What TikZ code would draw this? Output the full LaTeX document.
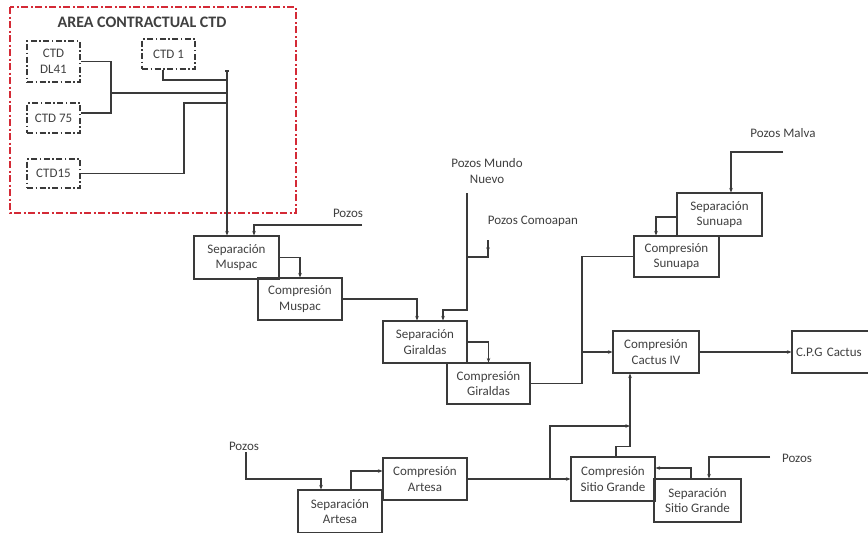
\documentclass[tikz,border=0pt]{standalone}
\usepackage{fontspec}
\setmainfont{Carlito}
\usetikzlibrary{arrows.meta}
\definecolor{ln}{HTML}{3A3A3A}
\definecolor{tx}{HTML}{404040}
\definecolor{redb}{HTML}{D42A36}
\begin{document}
\begin{tikzpicture}[x=1pt,y=-1pt,
  every node/.style={text=tx,font=\fontsize{13}{15.5}\selectfont},
  box/.style={draw=ln,line width=1.1pt,align=center,inner sep=0pt,minimum width=84pt,minimum height=42pt},
  ctdbox/.style={draw=ln,line width=1.5pt,align=center,inner sep=0pt,minimum width=53pt,dash pattern=on 6pt off 2.5pt on 1.5pt off 2.5pt},
  lbl/.style={align=center,inner sep=1pt},
  conn/.style={draw=ln,line width=1.1pt},
  arr/.style={conn,-{Stealth[length=4.5pt,width=3.5pt]}}]
\useasboundingbox (0,0) rectangle (868,533);
\fill[white] (0,0) rectangle (868,533);
% red contract area
\draw[redb,line width=1.4pt,dash pattern=on 7pt off 2.5pt on 2pt off 2.5pt] (10,7) rectangle (296,213);
\node[font=\bfseries\fontsize{16}{19}\selectfont] (title) at (142,22) {AREA CONTRACTUAL CTD};
% CTD boxes
\node[ctdbox,minimum height=41pt] (dl41) at (53.5,61.5) {CTD\\DL41};
\node[ctdbox,minimum height=30pt] (ctd1) at (168.5,54) {CTD 1};
\node[ctdbox,minimum height=30pt] (ctd75) at (53.5,118) {CTD 75};
\node[ctdbox,minimum height=29pt] (ctd15) at (53.5,173.5) {CTD15};
% process boxes
\node[box,minimum width=85pt,minimum height=43pt] (sepmus) at (236.5,257.5) {Separación\\Muspac};
\node[box] (compmus) at (300,299) {Compresión\\Muspac};
\node[box] (sepgir) at (425,342) {Separación\\Giraldas};
\node[box,minimum width=83pt,minimum height=41pt] (compgir) at (488.5,383.5) {Compresión\\Giraldas};
\node[box,minimum width=85pt,minimum height=43pt] (sepsun) at (719.5,214.5) {Separación\\Sunuapa};
\node[box,minimum width=85pt,minimum height=41pt] (compsun) at (676.5,256.5) {Compresión\\Sunuapa};
\node[box,minimum width=86pt] (cactus) at (656,352) {Compresión\\Cactus IV};
\node[box,minimum width=100pt,text width=92pt,align=left] (cpg) at (842,352) {C.P.G Cactus};
\node[box,minimum height=44pt] (compsg) at (613,479) {Compresión\\Sitio Grande};
\node[box,minimum width=87pt,minimum height=43pt] (sepsg) at (697.5,500.5) {Separación\\Sitio Grande};
\node[box] (compart) at (425,479) {Compresión\\Artesa};
\node[box,minimum height=43pt] (separt) at (340,511.5) {Separación\\Artesa};
% labels
\node[lbl] (lpozos1) at (348,213) {Pozos};
\node[lbl] (lmn) at (487,171) {Pozos Mundo\\Nuevo};
\node[lbl] (lcomo) at (533,221) {Pozos Comoapan};
\node[lbl] (lmalva) at (783,133) {Pozos Malva};
\node[lbl] (lpozos2) at (797,458) {Pozos};
\node[lbl] (lpozos3) at (244,446) {Pozos};
% coordinates
\coordinate (bus) at (227,71);
\coordinate (j1) at (227,80);
\coordinate (j2) at (111,93);
\coordinate (j3) at (184,103);
\coordinate (p1) at (362,225);
\coordinate (mnt) at (467,193);
\coordinate (j4) at (467,310);
\coordinate (c1) at (488,240);
\coordinate (c2) at (488,257);
\coordinate (vb) at (582,383.5);
\coordinate (pm) at (783,152);
\coordinate (pr) at (770,457);
\coordinate (bb) at (550,479);
\coordinate (kk) at (630,426);
\coordinate (pl) at (246,452);
\coordinate (pl2) at (246,479);
% CTD collection
\draw[conn] (bus) -- ++(-2,0) -- ++(4,0);
\draw[arr] (bus) -- (bus |- sepmus.north);
\draw[conn] ([xshift=-5.5pt]ctd1.south) |- (j1);
\draw[conn] (dl41.east) -| (j2) |- ([yshift=5pt]ctd75.east);
\draw[conn] (j2) -- (bus |- j2);
\draw[conn] (ctd15.east) -| (j3) -- (bus |- j3);
% Muspac
\draw[arr] (p1) -| ([xshift=17.5pt]sepmus.north);
\draw[arr] (sepmus.east) -| (compmus.north);
\draw[arr] (compmus.east) -| ([xshift=-8pt]sepgir.north);
% Giraldas
\draw[arr] (mnt) -- (j4) -| ([xshift=18pt]sepgir.north);
\draw[arr] (c1) -- ++(0,12);
\draw[conn] (c1) -- (c2) -- (mnt |- c2);
\draw[arr] (sepgir.east) -| (compgir.north);
% to Cactus IV
\draw[conn] (compgir.east) -- (vb) |- (compsun.west);
\draw[arr] (vb |- cactus.west) -- (cactus.west);
\draw[arr] (cactus.east) -- (cpg.west);
% Sunuapa
\draw[arr] (pm) -| ([xshift=11.5pt]sepsun.north);
\draw[arr] ([yshift=-2.5pt]sepsun.west) -| ([xshift=-20.5pt]compsun.north);
% Sitio Grande
\draw[arr] (pr) -| ([xshift=11.5pt]sepsg.north);
\draw[arr] ([xshift=-6.5pt]sepsg.north) |- ([yshift=11pt]compsg.east);
\draw[arr] ([xshift=3pt]compsg.north) -- ++(0,-10) -| ([xshift=-26pt]cactus.south);
\draw[arr] (compart.east) -- (compsg.west);
\draw[arr] (bb) |- (kk);
% Artesa
\draw[arr] (pl) -- (pl2) -| ([xshift=-19pt]separt.north);
\draw[arr] ([xshift=11pt]separt.north) |- ([yshift=8pt]compart.west);
\end{tikzpicture}
\end{document}
